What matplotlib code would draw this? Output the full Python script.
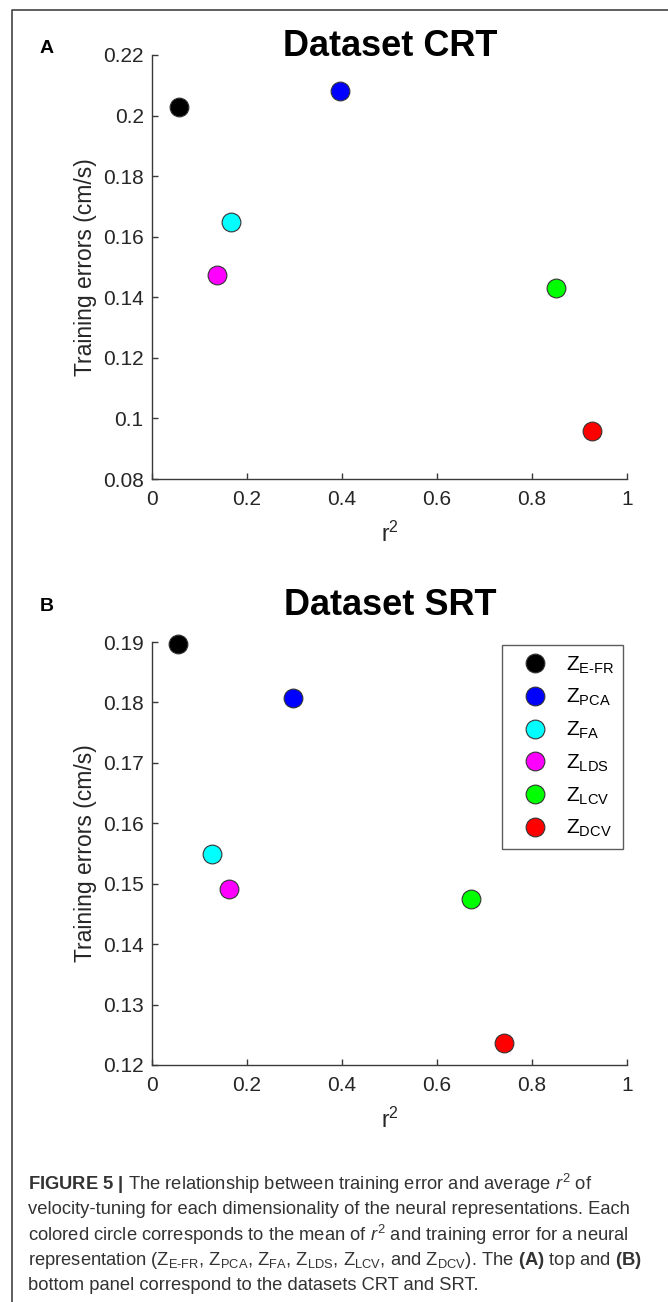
import numpy as np
import matplotlib
matplotlib.use("Agg")
import matplotlib.pyplot as plt
from matplotlib.lines import Line2D
from matplotlib.ticker import FuncFormatter

plt.rcParams['font.family'] = ['Liberation Sans', 'DejaVu Sans']
plt.rcParams['mathtext.fontset'] = 'custom'
plt.rcParams['mathtext.rm'] = 'Liberation Sans'
plt.rcParams['mathtext.it'] = 'Liberation Sans:italic'
plt.rcParams['mathtext.bf'] = 'Liberation Sans:bold'
plt.rcParams['mathtext.default'] = 'regular'

# representations and their colours
reps = ['E-FR', 'PCA', 'FA', 'LDS', 'LCV', 'DCV']
rep_colors = ['#000000', '#0000ff', '#00ffff', '#ff00ff', '#00ff00', '#ff0000']

# dataset CRT
crt_r2 = [0.057, 0.396, 0.166, 0.137, 0.851, 0.926]
crt_err = [0.2028, 0.2081, 0.1648, 0.1473, 0.1430, 0.0957]
crt_yticks = [0.08, 0.10, 0.12, 0.14, 0.16, 0.18, 0.20, 0.22]

# dataset SRT
srt_r2 = [0.055, 0.297, 0.126, 0.162, 0.672, 0.741]
srt_err = [0.1897, 0.1807, 0.1550, 0.1491, 0.1475, 0.1237]
srt_yticks = [0.12, 0.13, 0.14, 0.15, 0.16, 0.17, 0.18, 0.19]

xticks = [0, 0.2, 0.4, 0.6, 0.8, 1.0]

caption = [
    r"$\mathbf{FIGURE\ 5\ |}$ The relationship between training error and average $\mathit{r}^{2}$ of",
    "velocity-tuning for each dimensionality of the neural representations. Each",
    r"colored circle corresponds to the mean of $\mathit{r}^{2}$ and training error for a neural",
    r"representation (Z$_{\text{E-FR}}$, Z$_{\text{PCA}}$, Z$_{\text{FA}}$, Z$_{\text{LDS}}$, "
    r"Z$_{\text{LCV}}$, and Z$_{\text{DCV}}$). The $\mathbf{(A)}$ top and $\mathbf{(B)}$",
    "bottom panel correspond to the datasets CRT and SRT.",
]

W, H = 668, 1302
fig = plt.figure(figsize=(W / 100, H / 100), dpi=100)


def px(x, y):
    return x / W, 1 - y / H


fmt = FuncFormatter(lambda v, p: '%g' % round(v, 4))
axc = '#3a3a3a'


def panel(rect, r2, err, yticks, title, letter, title_y, letter_y):
    ax = fig.add_axes(rect)
    for x, y, c in zip(r2, err, rep_colors):
        ax.plot(x, y, 'o', ms=13.5, mfc=c, mec='#333333', mew=0.8, clip_on=False, zorder=3)
    ax.set_xlim(0, 1)
    ax.set_ylim(yticks[0], yticks[-1])
    ax.set_xticks(xticks)
    ax.set_yticks(yticks)
    ax.xaxis.set_major_formatter(fmt)
    ax.yaxis.set_major_formatter(fmt)
    for s in ['top', 'right']:
        ax.spines[s].set_visible(False)
    for s in ['left', 'bottom']:
        ax.spines[s].set_color(axc)
        ax.spines[s].set_linewidth(1.0)
    ax.tick_params(direction='in', length=4, width=1.0, color=axc, labelsize=15,
                   labelcolor='#262626')
    ax.tick_params(axis='x', pad=8)
    ax.tick_params(axis='y', pad=6)
    ax.set_ylabel('Training errors (cm/s)', fontsize=16.5, color='#262626')
    ax.yaxis.set_label_coords(-0.116, 0.5)
    ax.set_xlabel(r'r$^{2}$', fontsize=16.5, color='#262626')
    ax.xaxis.set_label_coords(0.5, -0.100)
    fig.text(*px(390, title_y), title, ha='center', va='baseline', fontsize=26,
             fontweight='bold', color='black')
    fig.text(*px(40, letter_y), letter, ha='left', va='baseline', fontsize=14,
             fontweight='bold', color='black')
    return ax


axA = panel([152 / W, 1 - 479 / H, 475 / W, 424 / H], crt_r2, crt_err, crt_yticks,
            'Dataset CRT', 'A', 56, 53)
axB = panel([152 / W, 1 - 1065 / H, 475 / W, 423 / H], srt_r2, srt_err, srt_yticks,
            'Dataset SRT', 'B', 615, 611)

handles = [Line2D([], [], ls='none', marker='o', ms=13.5, mfc=c, mec='#333333', mew=0.8)
           for c in rep_colors]
labels = [r'Z$_{\text{%s}}$' % r for r in reps]
leg = axB.legend(handles, labels, loc='upper left', bbox_to_anchor=px(502, 645),
                 bbox_transform=fig.transFigure, borderaxespad=0, fontsize=15,
                 handlelength=2.3, handletextpad=0.3, borderpad=0.45, labelspacing=0.55,
                 fancybox=False, frameon=True)
leg.get_frame().set_edgecolor('#333333')
leg.get_frame().set_linewidth(1.0)

# caption below the panels
for i, line in enumerate(caption):
    fig.text(*px(28, 1184 + 25.5 * i), line, ha='left', va='center', fontsize=13.2,
             color='#333333')

# page frame
fig.add_artist(Line2D([12 / W, 12 / W, 1.0], [0, 1 - 10 / H, 1 - 10 / H],
                      transform=fig.transFigure, color='#444444', lw=1.2))

fig.savefig('out.png', dpi=100)
